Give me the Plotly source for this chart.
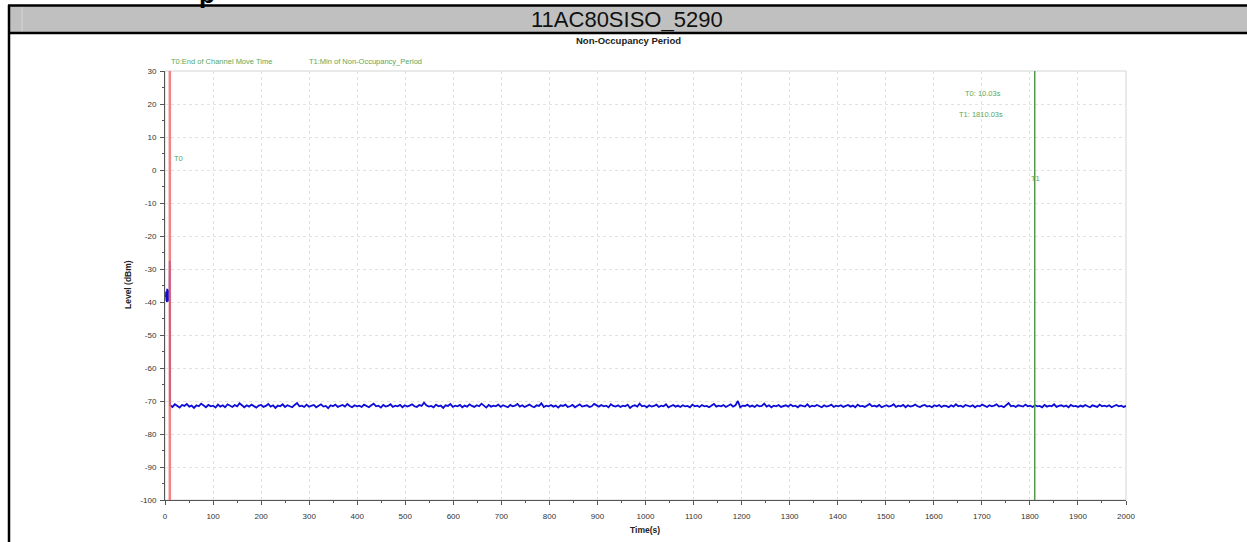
import plotly.graph_objects as go
import numpy as np

# ---------------- data ----------------
header_text = "11AC80SISO_5290"
chart_title = "Non-Occupancy Period"
x_title = "Time(s)"
y_title = "Level (dBm)"

t0_time = 10.03
t1_time = 1810.03
t0_legend = "T0:End of Channel Move Time"
t1_legend = "T1:Min of Non-Occupancy_Period"
t0_readout = "T0: 10.03s"
t1_readout = "T1: 1810.03s"

# traffic before channel move (t < T0)
pre_times = [2.0, 2.5, 3.0, 3.5, 4.0, 4.5, 5.0, 5.5, 6.0, 6.5, 7.0, 7.5, 8.0, 8.5, 9.0, 9.5, 10.0]
pre_levels = [-38.5, -36.8, -39.6, -37.2, -40.0, -36.0, -38.8, -37.5, -39.2, -36.4,
              -38.0, -39.8, -37.0, -38.6, -36.5, -39.0, -27.5]

# noise floor after channel move
noise_levels = [
    -71.3,-71.8,-71.0,-71.6,-72.0,-71.2,-71.5,-70.9,-71.7,-71.4,-72.1,-71.3,-71.6,-70.8,-71.5,-71.9,-71.2,-71.6,-71.4,-72.0,
    -71.1,-71.7,-71.3,-71.9,-71.0,-71.5,-71.8,-71.2,-71.6,-70.7,-71.4,-71.9,-71.3,-71.7,-71.1,-71.6,-72.0,-71.4,-71.2,-71.8,
    -71.5,-70.9,-71.7,-71.3,-72.1,-71.4,-71.6,-71.0,-71.8,-71.3,-71.5,-71.9,-71.2,-70.6,-71.6,-71.4,-71.8,-71.1,-71.7,-71.5,
    -71.2,-71.9,-71.4,-71.0,-71.7,-71.5,-72.2,-71.3,-71.6,-71.1,-71.8,-71.4,-71.2,-71.7,-70.9,-71.5,-71.9,-71.3,-71.6,-71.4,
    -71.8,-71.1,-71.5,-71.9,-71.3,-70.8,-71.6,-71.4,-72.0,-71.2,-71.7,-71.5,-71.0,-71.8,-71.4,-71.6,-71.2,-71.9,-71.3,-71.7,
    -71.4,-71.0,-71.6,-71.8,-71.2,-71.5,-70.5,-71.3,-71.7,-71.5,-71.9,-71.1,-71.6,-71.4,-72.1,-71.3,-71.5,-70.9,-71.8,-71.4,
    -71.6,-71.2,-71.9,-71.4,-71.7,-71.0,-71.5,-71.8,-71.3,-71.6,-70.8,-71.5,-72.0,-71.2,-71.7,-71.4,-71.6,-71.1,-71.8,-71.3,
    -71.5,-71.9,-71.2,-71.6,-71.4,-70.9,-71.7,-71.3,-71.8,-71.5,-71.1,-71.6,-71.9,-71.3,-71.5,-70.7,-71.8,-71.4,-71.6,-71.2,
    -71.7,-71.4,-72.0,-71.3,-71.5,-71.1,-71.8,-71.6,-71.2,-71.9,-71.4,-71.0,-71.7,-71.5,-71.3,-71.8,-71.6,-70.9,-71.4,-71.7,
    -71.2,-71.6,-71.4,-71.9,-71.0,-71.5,-71.7,-71.3,-71.8,-71.4,-71.6,-71.1,-72.1,-71.5,-71.3,-71.7,-70.8,-71.6,-71.4,-71.9,
    -71.3,-71.7,-71.5,-71.1,-71.8,-71.4,-71.6,-71.0,-71.9,-71.5,-71.2,-71.7,-71.4,-71.8,-71.3,-71.6,-71.5,-71.9,-71.1,-71.6,
    -71.4,-71.8,-71.2,-71.6,-71.5,-71.9,-71.3,-70.9,-71.7,-71.4,-71.6,-71.2,-71.8,-71.5,-71.0,-71.7,-71.3,-70.0,-71.9,-71.4,
    -71.5,-71.1,-71.7,-71.4,-71.8,-71.2,-71.6,-71.5,-70.8,-71.7,-71.3,-71.9,-71.4,-71.6,-71.2,-71.8,-71.5,-71.3,-71.7,-71.1,
    -71.6,-71.4,-71.9,-71.3,-71.5,-71.7,-71.0,-71.8,-71.4,-71.6,-71.2,-71.5,-71.9,-71.3,-71.7,-71.5,-71.1,-71.8,-71.4,-71.6,
    -71.3,-71.8,-71.5,-71.2,-71.7,-71.4,-71.9,-71.1,-71.6,-71.5,-71.8,-71.3,-70.9,-71.6,-71.4,-71.7,-71.2,-71.9,-71.5,-71.3,
    -71.7,-71.5,-71.0,-71.8,-71.4,-71.6,-71.2,-71.9,-71.3,-71.7,-71.5,-71.1,-71.6,-71.8,-71.4,-71.2,-71.7,-71.5,-71.9,-71.3,
    -71.6,-71.2,-71.8,-71.4,-71.5,-71.9,-71.3,-71.7,-71.0,-71.6,-71.4,-71.8,-71.2,-71.5,-71.7,-71.3,-71.9,-71.4,-71.6,-71.1,
    -71.5,-71.8,-71.3,-71.6,-71.4,-71.0,-71.7,-71.5,-71.9,-71.2,-70.6,-71.6,-71.4,-71.8,-71.3,-71.5,-71.7,-71.1,-71.6,-71.4,
    -71.8,-71.3,-71.6,-71.5,-71.9,-71.2,-71.7,-71.4,-71.6,-71.0,-71.8,-71.5,-71.3,-71.7,-71.4,-71.9,-71.2,-71.6,-71.5,-71.8,
    -71.4,-71.7,-71.2,-71.6,-71.9,-71.3,-71.5,-71.8,-71.1,-71.6,-71.4,-71.7,-71.3,-71.9,-71.5,-71.2,-71.6,-71.4,-71.8,-71.5,
]
noise_start, noise_end = 10.5, 2000.0
noise_times = list(np.linspace(noise_start, noise_end, len(noise_levels)))

x_ticks = list(range(0, 2001, 100))
y_ticks = list(range(-100, 31, 10))

# ---------------- layout helpers ----------------
W_FIG, H_FIG = 1247, 542
L, T, R, B = 165, 71, 1126, 500
PW, PH = R - L, B - T

def px_x(p):
    return (p - L) / PW

def px_y(p):
    return (B - p) / PH

FONT = "Liberation Sans, Arial, sans-serif"
NARROW = "Liberation Sans Narrow, Arial Narrow, Liberation Sans, Arial, sans-serif"
GREEN_TXT = "#5aa85a"
NONE = "rgba(0,0,0,0)"

fig = go.Figure()

fig.add_trace(go.Scatter(
    x=pre_times + noise_times,
    y=pre_levels + noise_levels,
    mode="lines",
    line=dict(color="#0c0cd8", width=1.8),
    hoverinfo="skip",
    showlegend=False,
))

shapes = []
# chart frame (light gray)
shapes.append(dict(type="rect", xref="paper", yref="paper", x0=0, x1=1, y0=0, y1=1,
                   line=dict(color="#d4d4d4", width=1), layer="below"))
# marker lines
shapes.append(dict(type="line", xref="x", yref="paper", x0=t0_time, x1=t0_time, y0=0, y1=1,
                   line=dict(color="rgba(240,110,110,0.85)", width=2.5), layer="above"))
shapes.append(dict(type="line", xref="x", yref="paper", x0=t1_time, x1=t1_time, y0=0, y1=1,
                   line=dict(color="#4f9a4f", width=1.5), layer="above"))
# header band
shapes.append(dict(type="rect", xref="paper", yref="paper",
                   x0=px_x(9), x1=px_x(1400), y0=px_y(33), y1=px_y(6),
                   fillcolor="#c0c0c0", line=dict(width=0, color=NONE), layer="below"))
shapes.append(dict(type="line", xref="paper", yref="paper",
                   x0=px_x(22), x1=px_x(22), y0=px_y(32), y1=px_y(7),
                   line=dict(color="#d4d4d4", width=1)))
shapes.append(dict(type="line", xref="paper", yref="paper",
                   x0=px_x(8), x1=px_x(1400), y0=px_y(5.5), y1=px_y(5.5),
                   line=dict(color="black", width=2.5)))
shapes.append(dict(type="line", xref="paper", yref="paper",
                   x0=px_x(8), x1=px_x(1400), y0=px_y(33), y1=px_y(33),
                   line=dict(color="black", width=2.5)))
shapes.append(dict(type="line", xref="paper", yref="paper",
                   x0=px_x(9), x1=px_x(9), y0=px_y(5), y1=px_y(700),
                   line=dict(color="black", width=2.5)))

ann = []
def text(s, xp, yp, size, color="#222", bold=False, xanchor="center", angle=0, family=FONT):
    ann.append(dict(text=("<b>%s</b>" % s) if bold else s, xref="paper", yref="paper",
                    x=px_x(xp), y=px_y(yp), xanchor=xanchor, yanchor="middle",
                    showarrow=False, textangle=angle,
                    font=dict(family=family, size=size, color=color)))

text(header_text, 627, 20, 22, color="#111")
text("p", 207, -6, 26, color="#000", bold=True)
text(chart_title, 628, 41, 9.5, color="#222", bold=True)
text(t0_legend, 169, 62, 7.5, color=GREEN_TXT, xanchor="left", family=NARROW)
text(t1_legend, 307, 62, 7.5, color=GREEN_TXT, xanchor="left", family=NARROW)
text(t0_readout, 983, 93, 7.5, color=GREEN_TXT, family=NARROW)
text(t1_readout, 981, 114, 7.5, color=GREEN_TXT, family=NARROW)
text("T0", 172, 158, 7.5, color=GREEN_TXT, xanchor="left", family=NARROW)
text("T1", 1035, 178, 7.5, color=GREEN_TXT, family=NARROW)
text(x_title, 645, 530, 8.5, color="#222", bold=True, family=NARROW)
text(y_title, 128, 285, 8.5, color="#222", bold=True, angle=-90, family=NARROW)

fig.update_layout(
    width=W_FIG, height=H_FIG,
    margin=dict(l=L, r=W_FIG - R, t=T, b=H_FIG - B, autoexpand=False),
    paper_bgcolor="white", plot_bgcolor="white",
    showlegend=False,
    shapes=shapes, annotations=ann,
    font=dict(family=FONT),
)

axis_common = dict(
    showline=True, linecolor="#555", linewidth=1,
    ticks="outside", ticklen=4, tickcolor="#555", tickwidth=1,
    showgrid=True, gridcolor="#e2e2e2", gridwidth=1, griddash="dot",
    zeroline=False, automargin=False,
    tickfont=dict(family=NARROW, size=8, color="#333"),
)
fig.update_xaxes(range=[0, 2000], tickmode="array", tickvals=x_ticks,
                 ticktext=[str(v) for v in x_ticks], ticklabelstandoff=4,
                 minor=dict(dtick=50, ticks="outside", ticklen=2, tickcolor="#555", showgrid=False),
                 **axis_common)
fig.update_yaxes(range=[-100, 30], tickmode="array", tickvals=y_ticks,
                 ticktext=[str(v) for v in y_ticks], ticklabelstandoff=2,
                 minor=dict(dtick=5, ticks="outside", ticklen=2, tickcolor="#555", showgrid=False),
                 **axis_common)

fig.write_html("out.html")
